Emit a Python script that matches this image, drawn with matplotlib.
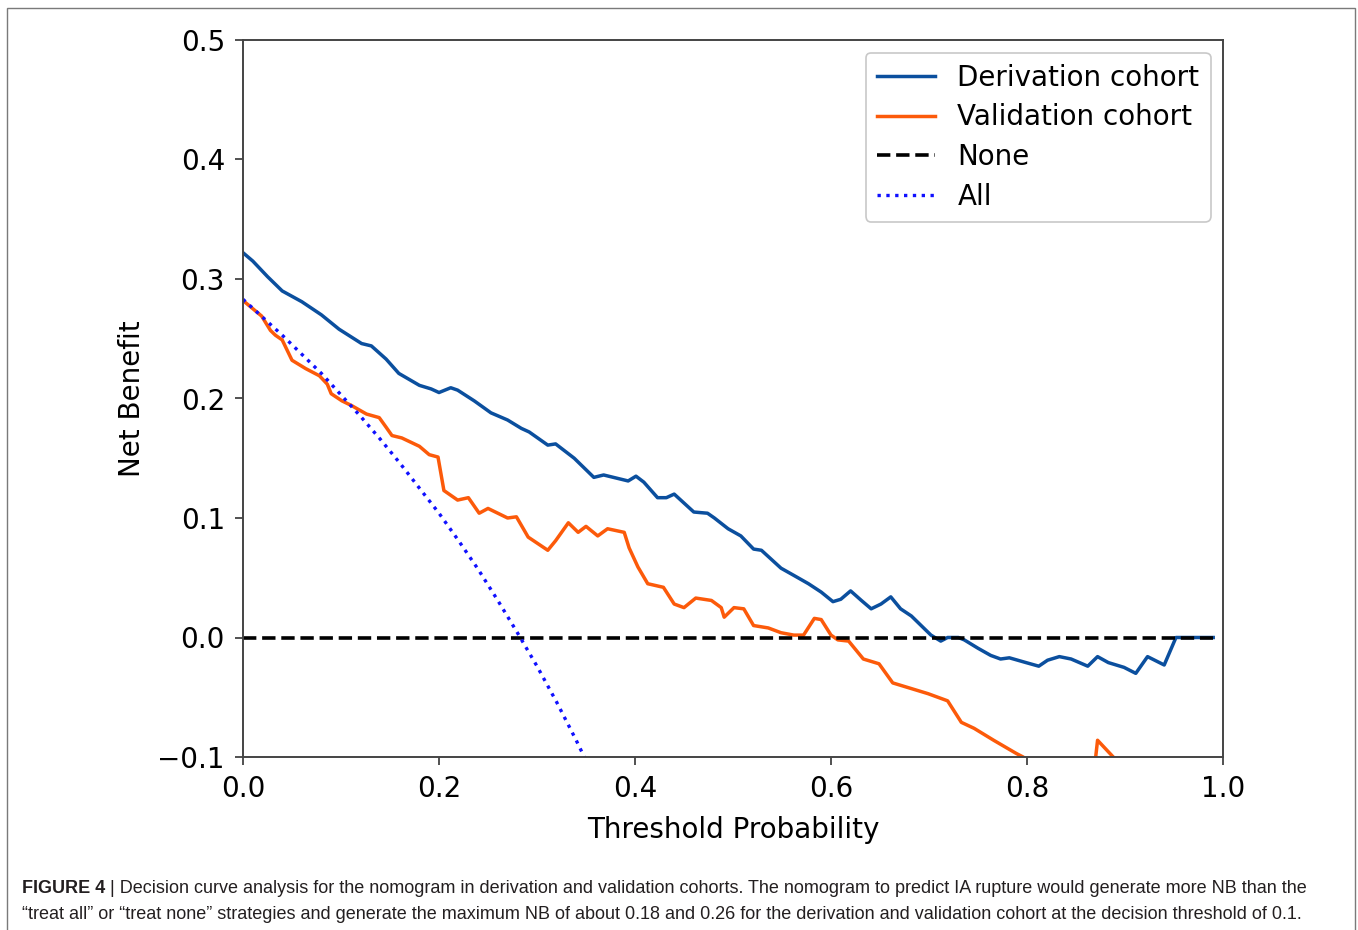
import matplotlib
matplotlib.use("Agg")
import matplotlib.pyplot as plt
from matplotlib.patches import Rectangle

# threshold probability / net benefit
der_x = [0.0, 0.010, 0.025, 0.040, 0.060, 0.080, 0.098, 0.121, 0.131, 0.146,
         0.159, 0.180, 0.192, 0.200, 0.212, 0.219, 0.236, 0.253, 0.270, 0.284,
         0.292, 0.311, 0.319, 0.338, 0.358, 0.368, 0.383, 0.393, 0.401, 0.409,
         0.423, 0.432, 0.440, 0.460, 0.474, 0.481, 0.495, 0.508, 0.521, 0.529,
         0.549, 0.562, 0.577, 0.590, 0.602, 0.610, 0.620, 0.631, 0.641, 0.651,
         0.661, 0.671, 0.682, 0.692, 0.702, 0.712, 0.719, 0.730, 0.736, 0.750,
         0.763, 0.773, 0.782, 0.799, 0.812, 0.821, 0.833, 0.845, 0.862, 0.872,
         0.883, 0.899, 0.911, 0.923, 0.940, 0.952, 0.990]
der_y = [0.322, 0.315, 0.302, 0.290, 0.281, 0.270, 0.258, 0.246, 0.244, 0.233,
         0.221, 0.211, 0.208, 0.205, 0.209, 0.207, 0.198, 0.188, 0.182, 0.175,
         0.172, 0.161, 0.162, 0.150, 0.134, 0.136, 0.133, 0.131, 0.135, 0.130,
         0.117, 0.117, 0.120, 0.105, 0.104, 0.100, 0.091, 0.085, 0.074, 0.073,
         0.058, 0.052, 0.045, 0.038, 0.030, 0.032, 0.039, 0.031, 0.024, 0.028,
         0.034, 0.024, 0.018, 0.010, 0.002, -0.003, 0.0, 0.0, -0.002, -0.009,
         -0.015, -0.018, -0.017, -0.021, -0.024, -0.019, -0.016, -0.018, -0.024, -0.016,
         -0.021, -0.025, -0.030, -0.016, -0.023, 0.0, 0.0]

val_x = [0.0, 0.019, 0.028, 0.033, 0.040, 0.050, 0.064, 0.078, 0.086, 0.090,
         0.101, 0.111, 0.126, 0.139, 0.146, 0.152, 0.162, 0.180, 0.190, 0.199,
         0.205, 0.219, 0.230, 0.241, 0.250, 0.270, 0.279, 0.291, 0.311, 0.319,
         0.332, 0.342, 0.350, 0.362, 0.372, 0.389, 0.394, 0.403, 0.413, 0.429,
         0.440, 0.450, 0.462, 0.478, 0.488, 0.491, 0.501, 0.511, 0.521, 0.536,
         0.549, 0.562, 0.572, 0.583, 0.590, 0.600, 0.607, 0.618, 0.633, 0.649,
         0.663, 0.679, 0.699, 0.719, 0.733, 0.746, 0.766, 0.789, 0.796, 0.820,
         0.845, 0.866, 0.872, 0.888, 0.910, 0.940, 0.970, 0.990]
val_y = [0.282, 0.269, 0.257, 0.253, 0.249, 0.232, 0.225, 0.219, 0.212, 0.204,
         0.198, 0.194, 0.187, 0.184, 0.176, 0.169, 0.167, 0.160, 0.153, 0.151,
         0.123, 0.115, 0.117, 0.104, 0.108, 0.100, 0.101, 0.084, 0.073, 0.081,
         0.096, 0.088, 0.093, 0.085, 0.091, 0.088, 0.075, 0.059, 0.045, 0.042,
         0.028, 0.025, 0.033, 0.031, 0.025, 0.017, 0.025, 0.024, 0.010, 0.008,
         0.004, 0.002, 0.002, 0.016, 0.015, 0.002, -0.002, -0.003, -0.018, -0.022,
         -0.038, -0.042, -0.047, -0.053, -0.071, -0.076, -0.086, -0.097, -0.100, -0.115,
         -0.125, -0.130, -0.086, -0.100, -0.120, -0.140, -0.160, -0.180]

none_x = [0.0, 0.99]
none_y = [0.0, 0.0]

all_x = [0.0, 0.02, 0.04, 0.06, 0.08, 0.10, 0.12, 0.14, 0.16, 0.18,
         0.20, 0.22, 0.24, 0.26, 0.28, 0.30, 0.32, 0.34, 0.36]
all_y = [0.283, 0.268, 0.253, 0.237, 0.221, 0.203, 0.185, 0.166, 0.146, 0.125,
         0.104, 0.081, 0.057, 0.031, 0.004, -0.024, -0.054, -0.086, -0.120]

xticks = [0.0, 0.2, 0.4, 0.6, 0.8, 1.0]
yticks = [-0.1, 0.0, 0.1, 0.2, 0.3, 0.4, 0.5]

W, H = 1358, 930
fig = plt.figure(figsize=(W / 100, H / 100), dpi=100)

# outer frame of the figure panel
fig.patches.append(Rectangle((7 / W, -0.01), (1355 - 7) / W, 1 - 8 / H + 0.01,
                             transform=fig.transFigure, fill=False,
                             edgecolor="#7a7a7a", linewidth=1.0))

ax = fig.add_axes([243 / W, 1 - 757 / H, (1223 - 243) / W, (757 - 40) / H])

ax.plot(der_x, der_y, color="#0b4f9e", lw=2.5, label="Derivation cohort")
ax.plot(val_x, val_y, color="#fc5a0a", lw=2.5, label="Validation cohort")
ax.plot(none_x, none_y, color="black", ls="--", lw=2.6, label="None")
ax.plot(all_x, all_y, color="#1010ff", ls=":", lw=2.4, label="All")

ax.set_xlim(0, 1.0)
ax.set_ylim(-0.1, 0.5)
ax.set_xticks(xticks)
ax.set_yticks(yticks)
ax.set_xticklabels([f"{t:.1f}" for t in xticks])
ax.set_yticklabels(["\u22120.1"] + [f"{t:.1f}" for t in yticks[1:]])
ax.tick_params(labelsize=20, length=6, width=1.2, color="#333333", pad=7)
for s in ax.spines.values():
    s.set_color("#444444")
    s.set_linewidth(1.4)

ax.set_xlabel("Threshold Probability", fontsize=20, labelpad=9)
ax.set_ylabel("Net Benefit", fontsize=20, labelpad=8)

leg = ax.legend(loc="upper right", fontsize=20, handlelength=2.1,
                borderaxespad=0.45, labelspacing=0.42, fancybox=True)
leg.get_frame().set_edgecolor("#bbbbbb")
leg.get_frame().set_linewidth(1.2)

# caption
cap_font = ["Liberation Sans", "DejaVu Sans"]
cap_size = 13.0
cap_color = "#231f20"
line1 = ("| Decision curve analysis for the nomogram in derivation and validation cohorts. "
         "The nomogram to predict IA rupture would generate more NB than the")
line2 = ("\u201ctreat all\u201d or \u201ctreat none\u201d strategies and generate the maximum NB "
         "of about 0.18 and 0.26 for the derivation and validation cohort at the decision threshold of 0.1.")
t0 = fig.text(22 / W, 1 - 893 / H, "FIGURE 4 ", fontsize=cap_size, fontweight="bold",
              family=cap_font, color=cap_color, va="baseline")
fig.canvas.draw()
bb = t0.get_window_extent()
fig.text(bb.x1 / W, 1 - 893 / H, line1, fontsize=cap_size, family=cap_font,
         color=cap_color, va="baseline")
fig.text(22 / W, 1 - 919 / H, line2, fontsize=cap_size, family=cap_font,
         color=cap_color, va="baseline")

fig.savefig("out.png", dpi=100)
